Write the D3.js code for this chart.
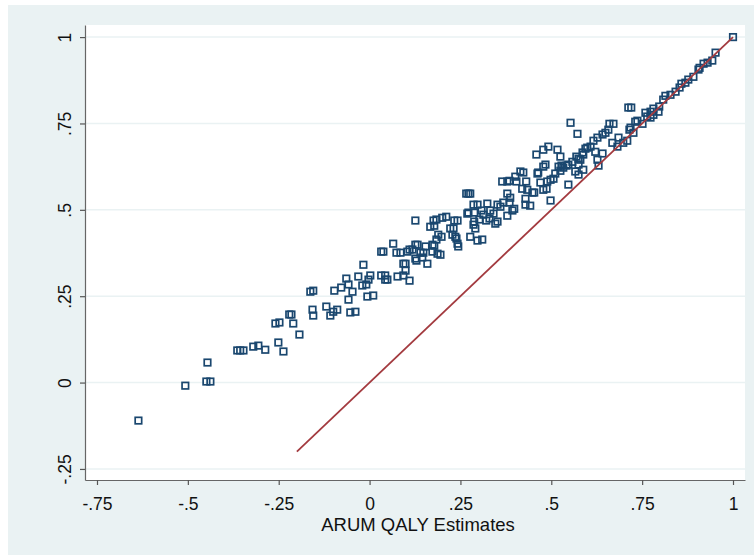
<!DOCTYPE html>
<html>
<head>
<meta charset="utf-8">
<script src="https://cdn.jsdelivr.net/npm/d3@7"></script>
<style>
  html, body { margin: 0; padding: 0; background: #ffffff; }
  svg { display: block; }
  text { font-family: "Liberation Sans", Arial, Helvetica, sans-serif; }
</style>
</head>
<body>
<svg id="chart" width="754" height="555"></svg>
<script>
// ARUM QALY estimates (x) vs. comparison QALY values (y)
const arumQaly = [
  -0.636,-0.507,-0.446,-0.449,-0.438,-0.364,-0.356,-0.347,-0.320,-0.306,
  -0.287,-0.251,-0.237,-0.259,-0.248,-0.221,-0.215,-0.210,-0.193,-0.163,
  -0.155,-0.157,-0.155,-0.119,-0.108,-0.100,-0.089,-0.053,-0.039,-0.097,
  -0.078,-0.064,-0.058,-0.047,-0.058,-0.017,-0.031,-0.009,-0.020,0.002,
  -0.003,-0.006,0.010,0.032,0.043,0.043,0.049,0.032,0.038,0.065,
  0.074,0.085,0.104,0.110,0.126,0.132,0.129,0.093,0.099,0.099,
  0.077,0.093,0.110,0.126,0.118,0.140,0.148,0.126,0.145,0.159,
  0.176,0.184,0.200,0.211,0.167,0.178,0.233,0.242,0.222,0.231,
  0.228,0.236,0.239,0.242,0.244,0.189,0.198,0.184,0.173,0.178,
  0.195,0.187,0.154,0.173,0.266,0.272,0.277,0.286,0.297,0.324,
  0.352,0.360,0.332,0.398,0.393,0.272,0.269,0.288,0.308,0.313,
  0.330,0.341,0.379,0.288,0.302,0.321,0.346,0.352,0.286,0.291,
  0.277,0.297,0.310,0.365,0.379,0.385,0.401,0.415,0.431,0.434,
  0.420,0.448,0.453,0.379,0.387,0.429,0.368,0.385,0.429,0.442,
  0.459,0.464,0.478,0.492,0.517,0.525,0.484,0.478,0.462,0.470,
  0.489,0.498,0.498,0.487,0.478,0.511,0.525,0.533,0.520,0.547,
  0.558,0.569,0.575,0.586,0.594,0.608,0.616,0.627,0.641,0.649,
  0.660,0.671,0.553,0.572,0.547,0.566,0.575,0.588,0.575,0.621,
  0.627,0.630,0.641,0.668,0.682,0.685,0.698,0.709,0.718,0.726,
  0.731,0.712,0.720,0.737,0.751,0.759,0.773,0.781,0.797,0.808,
  0.814,0.773,0.764,0.781,0.795,0.828,0.842,0.853,0.858,0.869,
  0.877,0.891,0.905,0.908,0.919,0.930,0.943,0.952,1.000,0.715,
  0.657,0.404,0.588,0.580,0.542,0.528,0.506,0.599,0.423
];
const otherQaly = [
  -0.110,-0.009,0.058,0.003,0.003,0.093,0.093,0.093,0.104,0.107,
  0.095,0.116,0.090,0.171,0.174,0.197,0.197,0.171,0.139,0.263,
  0.266,0.211,0.194,0.220,0.194,0.205,0.211,0.203,0.205,0.266,
  0.275,0.301,0.284,0.263,0.240,0.341,0.307,0.284,0.281,0.310,
  0.298,0.249,0.252,0.310,0.310,0.298,0.298,0.379,0.379,0.402,
  0.376,0.376,0.379,0.385,0.399,0.399,0.353,0.344,0.344,0.324,
  0.307,0.310,0.295,0.469,0.385,0.376,0.376,0.359,0.362,0.344,
  0.469,0.472,0.477,0.480,0.451,0.454,0.469,0.469,0.446,0.446,
  0.428,0.422,0.417,0.402,0.394,0.428,0.422,0.414,0.399,0.396,
  0.370,0.373,0.394,0.379,0.547,0.547,0.547,0.515,0.515,0.518,
  0.515,0.509,0.498,0.503,0.498,0.492,0.489,0.492,0.498,0.486,
  0.475,0.489,0.483,0.466,0.472,0.469,0.460,0.466,0.457,0.446,
  0.422,0.411,0.414,0.582,0.582,0.584,0.596,0.611,0.582,0.558,
  0.561,0.550,0.550,0.547,0.535,0.532,0.521,0.521,0.515,0.512,
  0.660,0.608,0.674,0.683,0.674,0.654,0.631,0.625,0.605,0.579,
  0.582,0.587,0.527,0.561,0.558,0.605,0.613,0.622,0.625,0.631,
  0.639,0.654,0.648,0.666,0.677,0.683,0.700,0.709,0.718,0.723,
  0.749,0.749,0.752,0.720,0.573,0.611,0.602,0.616,0.631,0.668,
  0.645,0.628,0.663,0.694,0.683,0.709,0.694,0.700,0.738,0.723,
  0.755,0.796,0.796,0.758,0.749,0.781,0.784,0.793,0.799,0.819,
  0.830,0.767,0.770,0.775,0.784,0.833,0.842,0.854,0.865,0.868,
  0.877,0.885,0.906,0.911,0.923,0.926,0.932,0.955,1.000,0.732,
  0.732,0.582,0.660,0.645,0.628,0.628,0.590,0.680,0.608
];
// 45-degree reference line endpoints
const refLineX = [-0.2, 1];
const refLineY = [-0.2, 1];

const xTickValues = [-0.75, -0.5, -0.25, 0, 0.25, 0.5, 0.75, 1];
const xTickLabels = ["-.75", "-.5", "-.25", "0", ".25", ".5", ".75", "1"];
const yTickValues = [-0.25, 0, 0.25, 0.5, 0.75, 1];
const yTickLabels = ["-.25", "0", ".25", ".5", ".75", "1"];
const xTitle = "ARUM QALY Estimates";

const svg = d3.select("#chart");
const W = 754, H = 555;
const plot = { left: 85, right: 745, top: 25, bottom: 480 };
const FONT = "'Liberation Sans', Arial, Helvetica, sans-serif";

// outer graph region
svg.append("rect").attr("x", 8).attr("y", 5).attr("width", W - 8).attr("height", H - 5)
  .attr("fill", "#eaf2f3");
// plot region
svg.append("rect").attr("x", plot.left).attr("y", plot.top)
  .attr("width", plot.right - plot.left).attr("height", plot.bottom - plot.top)
  .attr("fill", "#ffffff");

const x = d3.scaleLinear().domain([-0.783, 1.033]).range([plot.left, plot.right]);
const y = d3.scaleLinear().domain([-0.282, 1.035]).range([plot.bottom, plot.top]);

// grid lines
svg.append("g").selectAll("line").data(yTickValues).join("line")
  .attr("x1", plot.left).attr("x2", plot.right)
  .attr("y1", d => y(d)).attr("y2", d => y(d))
  .attr("stroke", "#eaf2f3").attr("stroke-width", 1.5);

// axes
const xAxis = d3.axisBottom(x).tickValues(xTickValues)
  .tickFormat((d, i) => xTickLabels[i]).tickSize(5).tickSizeOuter(0);
const gx = svg.append("g").attr("transform", `translate(0,${plot.bottom})`).call(xAxis);
gx.select(".domain").attr("stroke", "#666").attr("stroke-width", 1.2);
gx.selectAll(".tick line").attr("stroke", "#555").attr("stroke-width", 1.2);
gx.selectAll(".tick text")
  .attr("font-size", 17.5).attr("fill", "#111").attr("font-family", FONT)
  .attr("y", 30).attr("dy", null);

const yAxis = d3.axisLeft(y).tickValues(yTickValues)
  .tickFormat((d, i) => yTickLabels[i]).tickSize(5).tickSizeOuter(0);
const gy = svg.append("g").attr("transform", `translate(${plot.left},0)`).call(yAxis);
gy.select(".domain").attr("stroke", "#666").attr("stroke-width", 1.2);
gy.selectAll(".tick line").attr("stroke", "#555").attr("stroke-width", 1.2);
gy.selectAll(".tick text")
  .attr("font-size", 17.5).attr("fill", "#111").attr("font-family", FONT)
  .attr("x", 0).attr("y", 0).attr("dy", null)
  .attr("text-anchor", "middle")
  .attr("transform", "translate(-14,0) rotate(-90)");

// points
const pts = arumQaly.map((v, i) => ({ x: v, y: otherQaly[i] }));
const s = 6.5;
svg.append("g").selectAll("rect").data(pts).join("rect")
  .attr("x", d => x(d.x) - s / 2).attr("y", d => y(d.y) - s / 2)
  .attr("width", s).attr("height", s)
  .attr("fill", "none").attr("stroke", "#1a476f").attr("stroke-width", 1.7);

// reference line
svg.append("path")
  .datum(refLineX.map((v, i) => [v, refLineY[i]]))
  .attr("d", d3.line().x(d => x(d[0])).y(d => y(d[1])))
  .attr("stroke", "#a33a3f").attr("stroke-width", 1.8).attr("fill", "none");

// x title
svg.append("text").attr("x", 418).attr("y", 531)
  .attr("text-anchor", "middle").attr("font-size", 18.5).attr("fill", "#111")
  .attr("font-family", FONT)
  .text(xTitle);
</script>
</body>
</html>
